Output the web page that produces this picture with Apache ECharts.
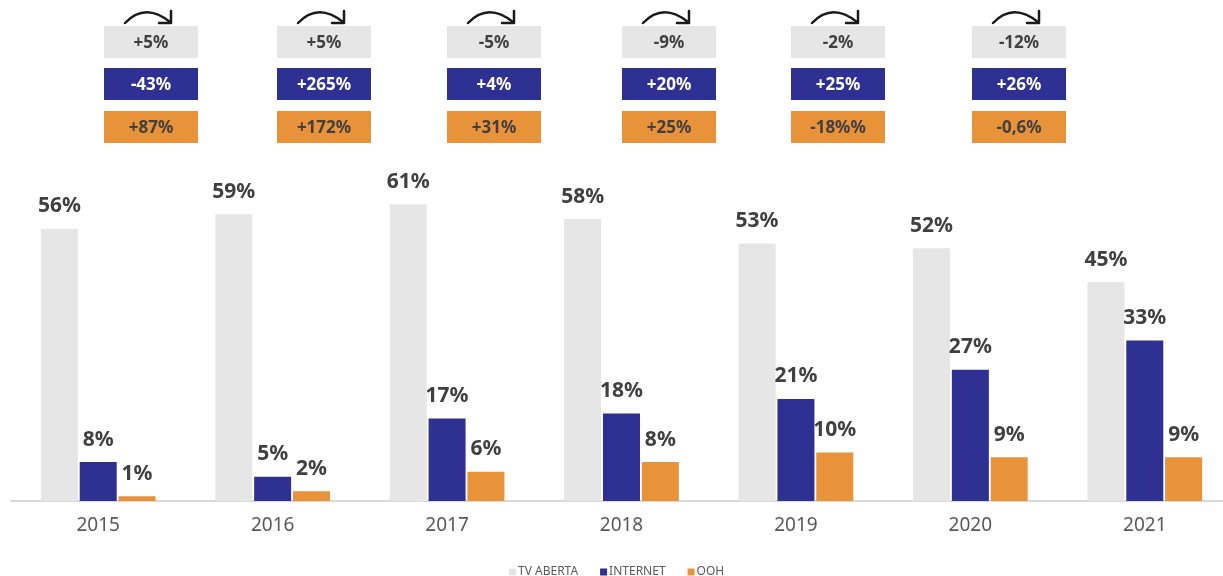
<!DOCTYPE html>
<html>
<head>
<meta charset="utf-8">
<script src="https://cdn.jsdelivr.net/npm/echarts@6/dist/echarts.min.js"></script>
<style>
  html, body { margin: 0; padding: 0; background: #fff; }
  #chart { width: 1223px; height: 576px; }
</style>
</head>
<body>
<div id="chart"></div>
<script>
// categories + series
const years = ["2015", "2016", "2017", "2018", "2019", "2020", "2021"];
const tvAberta = [56, 59, 61, 58, 53, 52, 45];
const internet = [8, 5, 17, 18, 21, 27, 33];
const ooh = [1, 2, 6, 8, 10, 9, 9];

// year-over-year growth shown in the boxes on top
const tvGrowth = ["+5%", "+5%", "-5%", "-9%", "-2%", "-12%"];
const internetGrowth = ["-43%", "+265%", "+4%", "+20%", "+25%", "+26%"];
const oohGrowth = ["+87%", "+172%", "+31%", "+25%", "-18%%", "-0,6%"];

// layout of the growth boxes (px)
const boxLeft = [104, 277, 447, 622, 791, 972];
const boxTop = [26, 68, 111];
const boxW = 94;
const boxH = 32;

const FONT = "Noto Sans";
const GREY = "#e6e6e6";
const NAVY = "#2e3192";
const ORANGE = "#e8923a";
const TXT = "#404040";

const chart = echarts.init(document.getElementById("chart"));

const labelStyle = {
  show: true,
  position: "top",
  distance: 12,
  formatter: "{c}%",
  fontFamily: FONT,
  fontWeight: "bold",
  fontSize: 21,
  color: TXT
};

function growthBoxes() {
  const rows = [
    { vals: tvGrowth, fill: GREY, color: TXT },
    { vals: internetGrowth, fill: NAVY, color: "#fff" },
    { vals: oohGrowth, fill: ORANGE, color: TXT }
  ];
  const out = [];
  rows.forEach((row, r) => {
    row.vals.forEach((v, i) => {
      out.push({
        type: "rect",
        shape: { x: boxLeft[i], y: boxTop[r], width: boxW, height: boxH },
        style: { fill: row.fill }
      });
      out.push({
        type: "text",
        x: boxLeft[i] + boxW / 2,
        y: boxTop[r] + boxH / 2 + 1,
        style: {
          text: v,
          fill: row.color,
          font: "bold 17px '" + FONT + "'",
          align: "center",
          verticalAlign: "middle"
        }
      });
    });
  });
  // curved arrows above each column of boxes
  const arrowStyle = { stroke: "#1a1a1a", lineWidth: 2.5, fill: null, lineCap: "round", lineJoin: "round" };
  boxLeft.forEach(x0 => {
    const sx = x0 + 21;
    out.push({
      type: "bezierCurve",
      shape: { x1: sx, y1: 23, cpx1: sx + 20, cpy1: 2, x2: sx + 45, y2: 22 },
      style: arrowStyle
    });
    out.push({
      type: "polyline",
      shape: { points: [[sx + 46, 11], [sx + 46, 23], [sx + 34, 23]] },
      style: arrowStyle
    });
  });
  return out;
}

const option = {
  animation: false,
  backgroundColor: "#fff",
  grid: { left: 11, width: 1221, top: 15, bottom: 75, outerBoundsMode: "none", containLabel: false },
  legend: {
    data: ["TV ABERTA", "INTERNET", "OOH"],
    left: 504,
    top: 561,
    icon: "rect",
    itemWidth: 7,
    itemHeight: 7,
    itemGap: 22,
    textStyle: { fontFamily: FONT, fontSize: 12, color: "#595959", padding: [0, 0, 0, -3] }
  },
  xAxis: {
    type: "category",
    data: years,
    axisLine: { lineStyle: { color: "#d9d9d9", width: 2 } },
    axisTick: { show: false },
    axisLabel: { fontFamily: FONT, fontSize: 19, color: "#595959", margin: 15 }
  },
  yAxis: {
    type: "value",
    min: 0,
    max: 100,
    show: false,
    splitLine: { show: false }
  },
  series: [
    {
      name: "TV ABERTA",
      type: "bar",
      data: tvAberta,
      barWidth: 37,
      barGap: "5%",
      itemStyle: { color: GREY },
      label: labelStyle
    },
    {
      name: "INTERNET",
      type: "bar",
      data: internet,
      barWidth: 37,
      barGap: "5%",
      itemStyle: { color: NAVY },
      label: labelStyle
    },
    {
      name: "OOH",
      type: "bar",
      data: ooh,
      barWidth: 37,
      barGap: "5%",
      itemStyle: { color: ORANGE },
      label: labelStyle
    }
  ],
  graphic: growthBoxes()
};

chart.setOption(option);
</script>
</body>
</html>
